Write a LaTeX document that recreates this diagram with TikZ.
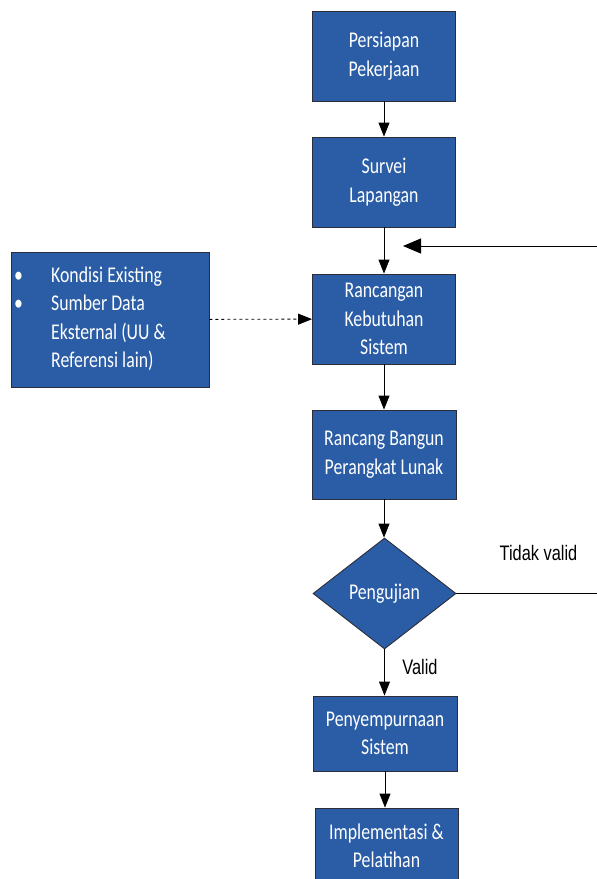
\documentclass[tikz,border=0pt]{standalone}
\usepackage{fontspec}
\setmainfont[FakeStretch=0.79]{Carlito}
\newfontfamily\labelfont[FakeStretch=0.78]{Liberation Sans}
\usetikzlibrary{arrows.meta,shapes.geometric}
\definecolor{boxblue}{RGB}{42,93,166}
\definecolor{boxline}{RGB}{45,45,55}
\tikzset{
  procbox/.style={draw=boxline, fill=boxblue, line width=0.9pt, text=white,
    minimum width=143pt, minimum height=90pt, inner sep=0pt, align=center,
    font=\fontsize{22.5}{28.5}\selectfont},
  flow/.style={line width=0.9pt, draw=black, -{Triangle[length=14pt,width=11pt]}},
  flowback/.style={line width=0.9pt, draw=black, -{Triangle[length=18pt,width=15pt]}},
  lbl/.style={font=\labelfont\fontsize{21}{25}\selectfont, text=black, inner sep=0pt},
}
\begin{document}
\begin{tikzpicture}[x=1pt,y=-1pt]
\useasboundingbox (0,0) rectangle (597,879);
\node[procbox] (b1) at (384,56) {Persiapan\\Pekerjaan};
\node[procbox] (b2) at (384,182) {Survei\\Lapangan};
\node[procbox] (b3) at (384,319) {Rancangan\\Kebutuhan\\Sistem};
\node[procbox, minimum width=144pt, minimum height=89pt] (b4) at (384,454.5) {Rancang Bangun\\Perangkat Lunak};
\node[draw=boxline, fill=boxblue, line width=0.9pt, minimum width=143pt, minimum height=111pt, inner sep=0pt, shape=diamond, shape aspect=1.29, text=white, font=\fontsize{22.5}{28.5}\selectfont] (d) at (384.5,593.5) {Pengujian};
\node[procbox, minimum width=144pt, minimum height=75pt] (b5) at (385,733.5) {Penyempurnaan\\Sistem};
\node[procbox, minimum width=143pt, minimum height=76pt] (b6) at (386.5,846) {Implementasi \&\\Pelatihan};
\node[draw=boxline, fill=boxblue, line width=0.9pt, minimum width=198pt, minimum height=135pt, inner sep=0pt] (src) at (110,319.5) {};
\node[anchor=west, text=white, inner sep=0pt, font=\fontsize{22.5}{28.5}\selectfont] (srctext) at (14,319.5) {%
\begin{tabular}{@{}p{37pt}@{}l@{}}
\textbullet & Kondisi Existing\\
\textbullet & Sumber Data\\
 & Eksternal (UU \&\\
 & Referensi lain)
\end{tabular}};
\coordinate (fbin) at (403,246);
\coordinate (fbr) at (600,246);
\coordinate (dr) at (600,593.5);
\draw[flow] (b1) -- (b2);
\draw[flow] (b2) -- (b3);
\draw[flow] (b3) -- (b4);
\draw[flow] (b4.south) -- (b4.south |- d.north);
\draw[flow] (d.south) -- (d.south |- b5.north);
\draw[flow] (b5.south) -- (b5.south |- b6.north);
\draw[flow, dashed] (src) -- (b3);
\draw[flowback] (d.east) -- (dr) -- (fbr) -- (fbin);
\node[lbl] (tv) at (538.5,553) {Tidak valid};
\node[lbl] (v) at (420,667) {Valid};
\end{tikzpicture}
\end{document}
